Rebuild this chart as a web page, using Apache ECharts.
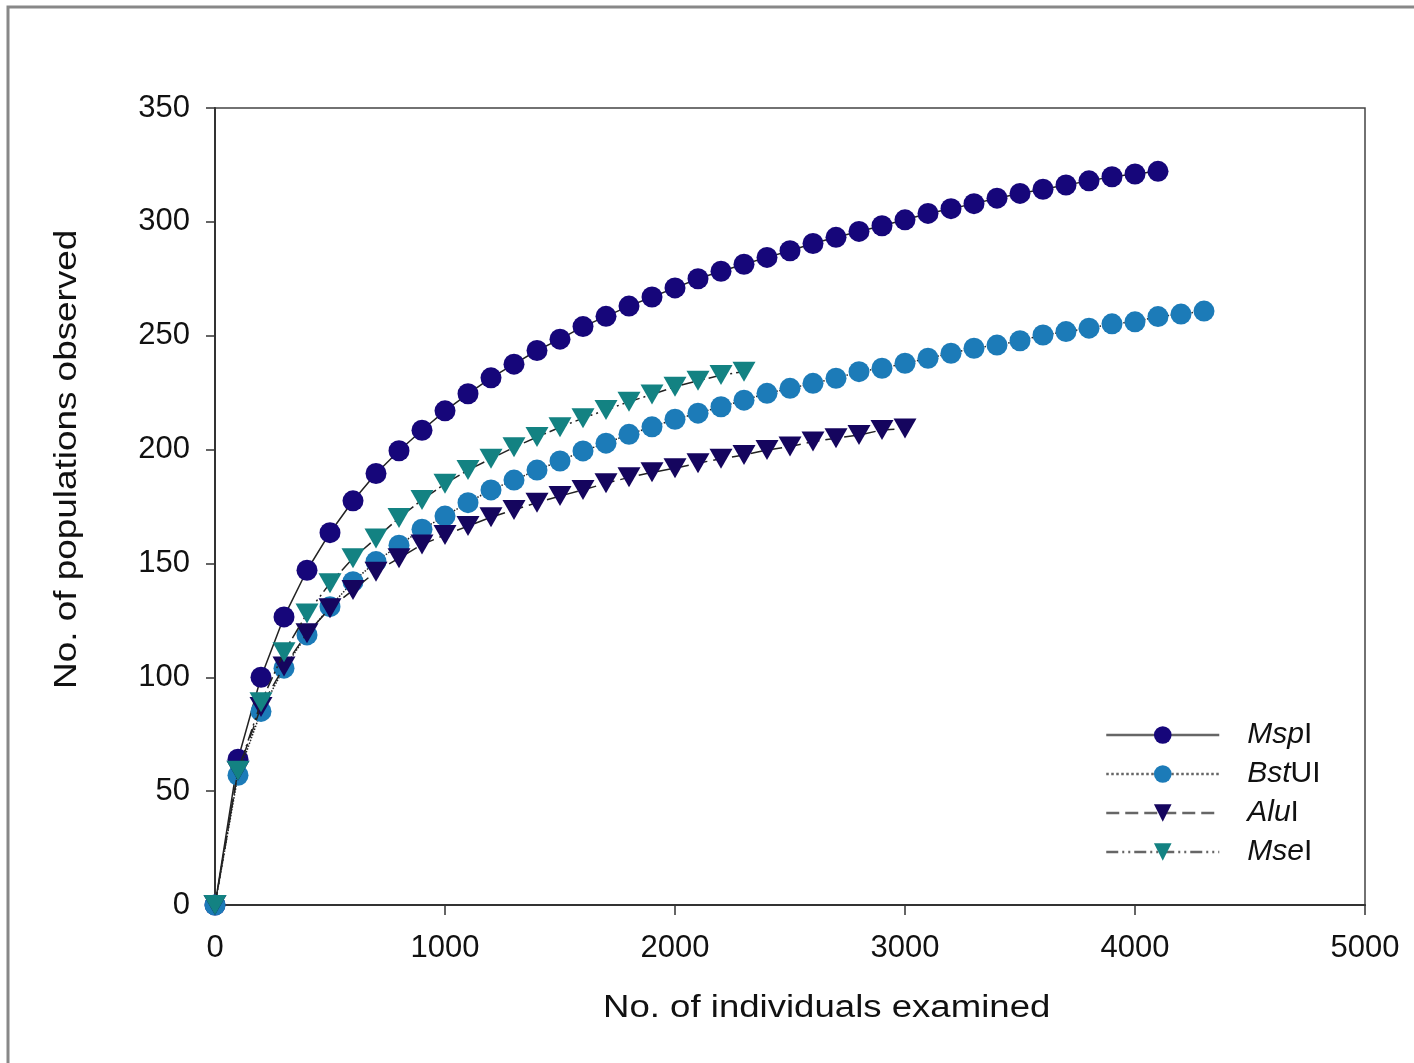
<!DOCTYPE html>
<html>
<head>
<meta charset="utf-8">
<script src="https://cdn.jsdelivr.net/npm/echarts@6/dist/echarts.min.js"></script>
<style>
  html, body { margin: 0; padding: 0; background: #fff; }
  #main { width: 1414px; height: 1063px; }
</style>
</head>
<body>
<div id="main"></div>
<script>
// sampling step along x (individuals)
var step = 100;

var names = ['MspI', 'BstUI', 'AluI', 'MseI'];
var italicPart = ['Msp', 'Bst', 'Alu', 'Mse'];
var romanPart = ['I', 'UI', 'I', 'I'];

var mspI = [0, 64, 100, 126.5, 147, 163.5, 177.5, 189.5, 199.5, 208.5, 217, 224.5, 231.5, 237.5,
  243.5, 248.5, 254, 258.5, 263, 267, 271, 275, 278.3, 281.4, 284.4, 287.3, 290.5, 293.2, 295.8,
  298.3, 300.9, 303.7, 305.8, 308, 310.4, 312.5, 314.3, 316.2, 318, 319.8, 321, 322.2];
var bstUI = [0, 57, 85, 104, 118.6, 131, 142, 150.8, 158, 165, 170.8, 176.7, 182.3, 186.6, 191,
  195, 199.4, 202.8, 206.7, 210, 213.3, 216, 218.8, 221.7, 224.7, 226.9, 229.1, 231.3, 234.2,
  235.7, 237.9, 240.1, 242.3, 244.5, 245.9, 247.8, 250.3, 251.8, 253.3, 255.2, 256.1, 258.4,
  259.5, 260.8];
var aluI = [0, 59, 87, 104.7, 119.3, 130.3, 138.3, 146.4, 152.3, 158.3, 162.5, 166.4, 170.3,
  173.5, 176.7, 179.6, 182.3, 185.2, 187.8, 190, 191.8, 194, 196, 197.6, 199.8, 201.3, 203.5,
  205, 206.4, 208.6, 209.2];
var mseI = [0, 59, 89, 111, 128, 141.3, 152.3, 161, 170, 177.9, 185, 191, 196, 201, 205.5, 209.8,
  213.8, 217.4, 221, 224.2, 227.6, 230.2, 232.7, 234.2];

var markerColors = ['#16067a', '#1c7bb8', '#15055e', '#138282'];
var symbols = ['circle', 'circle', 'triangle', 'triangle'];
var lineTypes = ['solid', 'dotted', [13, 6], [12, 4, 2, 4, 2, 4]];

var font = 'Liberation Sans, Arial';

function toPairs(arr) {
  return arr.map(function (v, i) { return [i * step, v]; });
}

var allData = [mspI, bstUI, aluI, mseI];

var chart = echarts.init(document.getElementById('main'));

var series = names.map(function (n, k) {
  return {
    name: n,
    type: 'line',
    data: toPairs(allData[k]),
    symbol: symbols[k],
    symbolSize: symbols[k] == 'circle' ? 21 : [23, 20],
    symbolRotate: symbols[k] == 'triangle' ? 180 : 0,
    showAllSymbol: true,
    clip: false,
    itemStyle: { color: markerColors[k], opacity: 1 },
    lineStyle: { color: '#222', width: 1.5, type: lineTypes[k] },
    z: 2 + k,
    animation: false
  };
});

var option = {
  backgroundColor: '#fff',
  animation: false,
  grid: { left: 215, right: 49, top: 108, bottom: 158, show: true, borderColor: '#444', borderWidth: 1.5 },
  xAxis: {
    type: 'value',
    min: 0, max: 5000, interval: 1000,
    axisLine: { show: true, lineStyle: { color: '#333', width: 2 } },
    axisTick: { show: true, inside: false, length: 10, lineStyle: { color: '#333', width: 1.5 } },
    axisLabel: {
      margin: 28, fontSize: 31, color: '#111', fontFamily: font,
      formatter: function (v) { return String(v); }
    },
    splitLine: { show: false }
  },
  yAxis: {
    type: 'value',
    min: 0, max: 350, interval: 50,
    axisLine: { show: true, lineStyle: { color: '#333', width: 2 } },
    axisTick: { show: true, inside: false, length: 9, lineStyle: { color: '#333', width: 1.5 } },
    axisLabel: { margin: 25, fontSize: 31, color: '#111', fontFamily: font },
    splitLine: { show: false }
  },
  legend: {
    orient: 'vertical',
    left: 1105, top: 720,
    padding: 0,
    itemWidth: 113, itemHeight: 22, itemGap: 9,
    data: names,
    lineStyle: { color: '#666', width: 2.5 },
    formatter: function (name) {
      var k = names.indexOf(name);
      return '{i|' + italicPart[k] + '}{n|' + romanPart[k] + '}';
    },
    textStyle: {
      padding: [0, 0, 0, 23],
      rich: {
        i: { fontSize: 30, lineHeight: 26, fontStyle: 'italic', color: '#111', fontFamily: font },
        n: { fontSize: 30, lineHeight: 26, color: '#111', fontFamily: font }
      }
    }
  },
  graphic: [
    {
      type: 'rect', silent: true, z: -1,
      shape: { x: 8, y: 7, width: 1500, height: 1200 },
      style: { fill: 'none', stroke: '#888', lineWidth: 3 }
    },
    {
      type: 'text', x: 603, y: 993, scaleX: 1.18,
      style: { text: 'No. of individuals examined', fontSize: 31, fill: '#111', fontFamily: font }
    },
    {
      type: 'text', rotation: Math.PI / 2, x: 52, y: 689, scaleX: 1.19,
      style: { text: 'No. of populations observed', fontSize: 31, fill: '#111', fontFamily: font }
    }
  ],
  series: series
};

chart.setOption(option);
</script>
</body>
</html>
